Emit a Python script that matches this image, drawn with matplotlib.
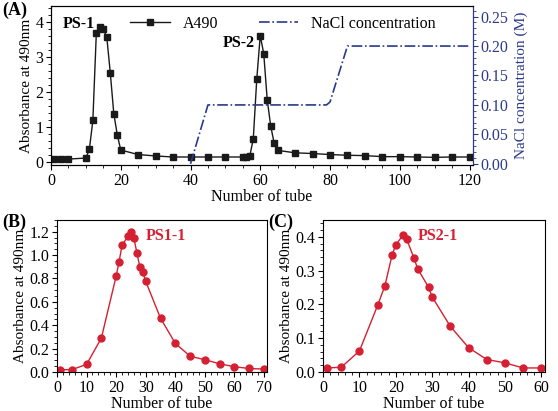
import matplotlib
matplotlib.use("Agg")
import matplotlib.pyplot as plt

plt.rcParams['font.family'] = ['Liberation Serif', 'DejaVu Serif']
plt.rcParams['font.size'] = 11.5
plt.rcParams['xtick.direction'] = 'out'
plt.rcParams['ytick.direction'] = 'out'

a_x = [1,3,5,10,11,12,13,14,15,16,17,18,19,20,25,30,35,40,45,50,55,56,57,58,59,60,61,62,63,64,65,70,75,80,85,90,95,100,105,110,115,120]
a_y = [0.07,0.07,0.07,0.1,0.35,1.18,3.7,3.87,3.8,3.57,2.55,1.38,0.77,0.33,0.2,0.16,0.13,0.13,0.13,0.13,0.13,0.14,0.16,0.65,2.37,3.62,3.1,1.77,1.02,0.52,0.32,0.25,0.23,0.2,0.18,0.17,0.14,0.14,0.13,0.12,0.13,0.13]
nacl_x = [40,45,79,80,85,120]
nacl_y = [0.0,0.10,0.10,0.105,0.20,0.20]

b_x = [1,5,10,15,20,21,22,24,25,26,27,28,29,30,35,40,45,50,55,60,65,70]
b_y = [0.02,0.02,0.065,0.29,0.82,0.945,1.085,1.16,1.2,1.145,1.02,0.9,0.855,0.775,0.46,0.245,0.135,0.105,0.07,0.045,0.03,0.025]
c_x = [1,5,10,15,17,19,20,22,23,25,26,29,30,35,40,45,50,55,60]
c_y = [0.012,0.014,0.062,0.197,0.255,0.347,0.377,0.405,0.393,0.337,0.306,0.251,0.222,0.135,0.072,0.037,0.027,0.012,0.012]

red = '#d42032'
navy = '#2b3a8a'
W, H = 558, 411
fig = plt.figure(figsize=(W/100, H/100), dpi=100)

def rect(x0, y0, x1, y1):
    return [x0/W, 1-y1/H, (x1-x0)/W, (y1-y0)/H]

ax = fig.add_axes(rect(51, 6, 473, 165))
l1, = ax.plot(a_x, a_y, '-s', color='#1a1a1a', ms=4.5, lw=1, label='A490')
ax.set_xlim(0, 121)
ax.set_ylim(-0.1, 4.47)
ax.set_xticks(range(0, 121, 20))
ax.set_yticks(range(0, 5))
ax.set_xlabel('Number of tube', labelpad=0)
ax.set_ylabel('Absorbance at 490nm', labelpad=2, fontsize=11)
ax.text(12.5, 3.95, 'PS-1', fontweight='bold', ha='right', va='center')
ax.text(58.5, 3.4, 'PS-2', fontweight='bold', ha='right', va='center')
ax2 = ax.twinx()
l2, = ax2.plot(nacl_x, nacl_y, '-.', color=navy, lw=1.2, label='NaCl concentration')
ax2.set_ylim(-0.002, 0.268)
ax2.set_yticks([0, 0.05, 0.10, 0.15, 0.20, 0.25])
ax2.set_yticklabels(['%.2f' % v for v in [0, 0.05, 0.10, 0.15, 0.20, 0.25]], color=navy)
ax2.set_ylabel('NaCl concentration (M)', color=navy, fontsize=11)
ax2.spines['right'].set_color(navy)
ax2.tick_params(axis='y', colors=navy)
ax.legend([l1, l2], ['A490', 'NaCl concentration'], loc='upper center', ncol=2, frameon=False,
          bbox_to_anchor=(0.55, 1.03), handlelength=2.5, columnspacing=2.5)
fig.text(2/W, 1-10/H, '(A)', fontweight='bold', fontsize=13, va='center')

axb = fig.add_axes(rect(57, 220, 267, 372))
axb.plot(b_x, b_y, '-o', color=red, ms=5, lw=1)
axb.set_xlim(0, 71); axb.set_ylim(0, 1.3)
axb.set_xticks(range(0, 71, 10))
axb.set_yticks([0, 0.2, 0.4, 0.6, 0.8, 1.0, 1.2])
axb.set_yticklabels(['%.1f' % v for v in [0, 0.2, 0.4, 0.6, 0.8, 1.0, 1.2]])
axb.set_xlabel('Number of tube', labelpad=0)
axb.set_ylabel('Absorbance at 490nm', labelpad=2, fontsize=11)
axb.text(30, 1.13, 'PS1-1', color=red, fontweight='bold')
fig.text(2/W, 1-222/H, '(B)', fontweight='bold', fontsize=13, va='center')

axc = fig.add_axes(rect(323, 220, 545, 372))
axc.plot(c_x, c_y, '-o', color=red, ms=5, lw=1)
axc.set_xlim(0, 61); axc.set_ylim(0, 0.45)
axc.set_xticks(range(0, 61, 10))
axc.set_yticks([0, 0.1, 0.2, 0.3, 0.4])
axc.set_yticklabels(['%.1f' % v for v in [0, 0.1, 0.2, 0.3, 0.4]])
axc.set_xlabel('Number of tube', labelpad=0)
axc.set_ylabel('Absorbance at 490nm', labelpad=2, fontsize=11)
axc.text(26, 0.39, 'PS2-1', color=red, fontweight='bold')
fig.text(268/W, 1-222/H, '(C)', fontweight='bold', fontsize=13, va='center')

for a in (ax, axb, axc):
    a.minorticks_on()
    a.tick_params(which='minor', length=2)
    a.tick_params(which='major', length=3.5, pad=2)
ax2.minorticks_on()
ax2.tick_params(which='minor', length=2, colors=navy)
ax2.tick_params(which='major', length=3.5, pad=2)

fig.savefig('out.png', dpi=100)
